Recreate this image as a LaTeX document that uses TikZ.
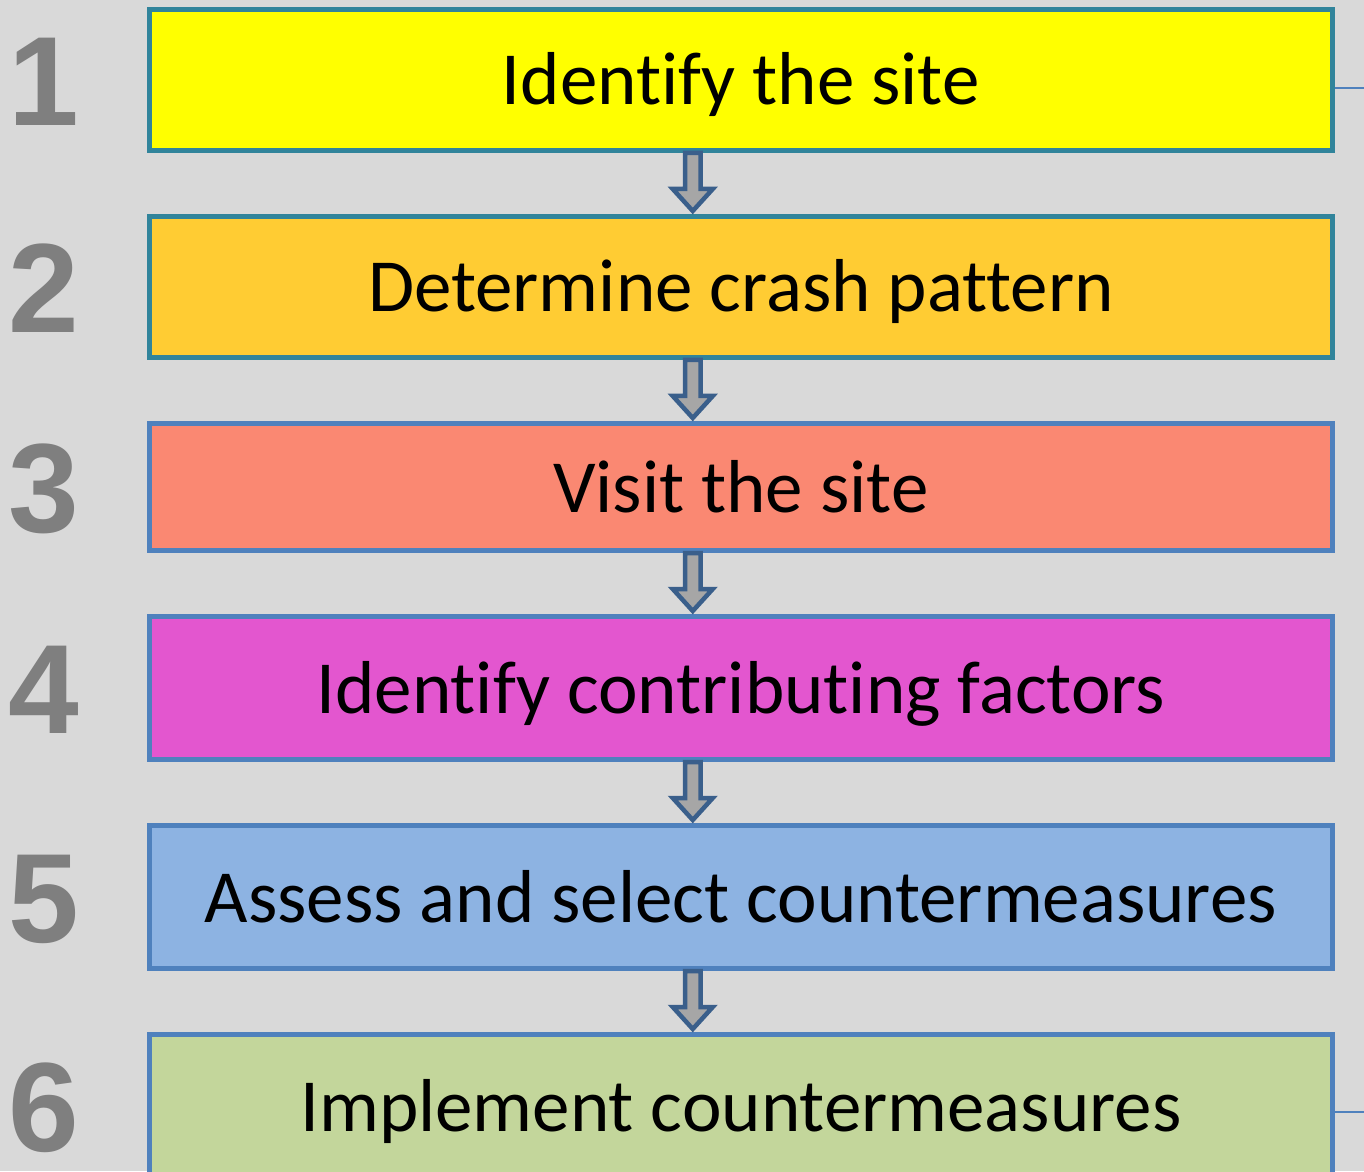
\documentclass[tikz,border=0pt]{standalone}
\usepackage{fontspec}
\setmainfont{Carlito}[Ligatures=NoCommon]
\newfontfamily\numfont{Liberation Sans}
\usetikzlibrary{positioning,calc}

\definecolor{bggray}{HTML}{D9D9D9}
\definecolor{numgray}{HTML}{7F7F7F}
\definecolor{tealborder}{HTML}{31849B}
\definecolor{blueborder}{HTML}{4F81BD}
\definecolor{arrowblue}{HTML}{3A5F8B}
\definecolor{arrowgray}{HTML}{A6A6A6}
\definecolor{stepyellow}{HTML}{FFFF00}
\definecolor{steporange}{HTML}{FFCC33}
\definecolor{stepsalmon}{HTML}{FA8872}
\definecolor{stepmagenta}{HTML}{E356CF}
\definecolor{stepblue}{HTML}{8DB3E2}
\definecolor{stepgreen}{HTML}{C3D69B}

\tikzset{
  stepbox/.style={draw, line width=5bp, minimum width=1183bp, inner sep=0pt,
    font=\fontsize{75bp}{88bp}\selectfont, text height=50bp, text depth=0pt},
  steplabel/.style={anchor=west, inner sep=0pt, text=numgray,
    font=\numfont\bfseries\fontsize{127bp}{140bp}\selectfont, text height=91bp, text depth=0pt},
  blockarrow/.style={draw=arrowblue, fill=arrowgray, line width=4.5bp,
    to path={let \p1=(\tikztostart), \p2=(\tikztotarget) in
      (\x1-7.75bp,\y1) -- (\x1-7.75bp,\y2+25bp) -- (\x1-20bp,\y2+25bp) -- (\x1,\y2+3bp)
      -- (\x1+20bp,\y2+25bp) -- (\x1+7.75bp,\y2+25bp) -- (\x1+7.75bp,\y1) -- cycle}},
  sideline/.style={draw=blueborder, line width=1.3bp}
}

\begin{document}
\begin{tikzpicture}[x=1bp, y=1bp, node distance=61bp]
    \fill[bggray] (0,0) rectangle (1364,1171);
    \useasboundingbox (0,0) rectangle (1364,1171);

    % Steps
    \node[stepbox, draw=tealborder, fill=stepyellow, minimum height=141bp] (s1) at (740.75,1091) {Identify the site};
    \node[stepbox, draw=tealborder, fill=steporange, minimum height=141bp, below=of s1] (s2) {Determine crash pattern};
    \node[stepbox, draw=blueborder, fill=stepsalmon, minimum height=127bp, below=of s2] (s3) {Visit the site};
    \node[stepbox, draw=blueborder, fill=stepmagenta, minimum height=143bp, below=of s3] (s4) {Identify contributing factors};
    \node[stepbox, draw=blueborder, fill=stepblue, minimum height=143bp, below=of s4] (s5) {Assess and select countermeasures};
    \node[stepbox, draw=blueborder, fill=stepgreen, minimum height=143bp, below=of s5] (s6) {Implement countermeasures};

    % Step numbers
    \coordinate (numcol) at (8,0);
    \node[steplabel] (n1) at (s1 -| numcol) {1};
    \node[steplabel] (n2) at (s2 -| numcol) {2};
    \node[steplabel] (n3) at (s3 -| numcol) {3};
    \node[steplabel] (n4) at (s4 -| numcol) {4};
    \node[steplabel] (n5) at (s5 -| numcol) {5};
    \node[steplabel] (n6) at (s6 -| numcol) {6};

    % Arrows between steps
    \draw[blockarrow] ([xshift=-48bp]s1.south) to ([xshift=-48bp]s2.north);
    \draw[blockarrow] ([xshift=-48bp]s2.south) to ([xshift=-48bp]s3.north);
    \draw[blockarrow] ([xshift=-48bp]s3.south) to ([xshift=-48bp]s4.north);
    \draw[blockarrow] ([xshift=-48bp]s4.south) to ([xshift=-48bp]s5.north);
    \draw[blockarrow] ([xshift=-48bp]s5.south) to ([xshift=-48bp]s6.north);

    % Lines leaving on the right
    \coordinate (top out) at (1364,1083);
    \coordinate (bottom out) at (1364,59);
    \draw[sideline] (top out -| s1.east) -- (top out);
    \draw[sideline] (bottom out -| s6.east) -- (bottom out);
\end{tikzpicture}
\end{document}
